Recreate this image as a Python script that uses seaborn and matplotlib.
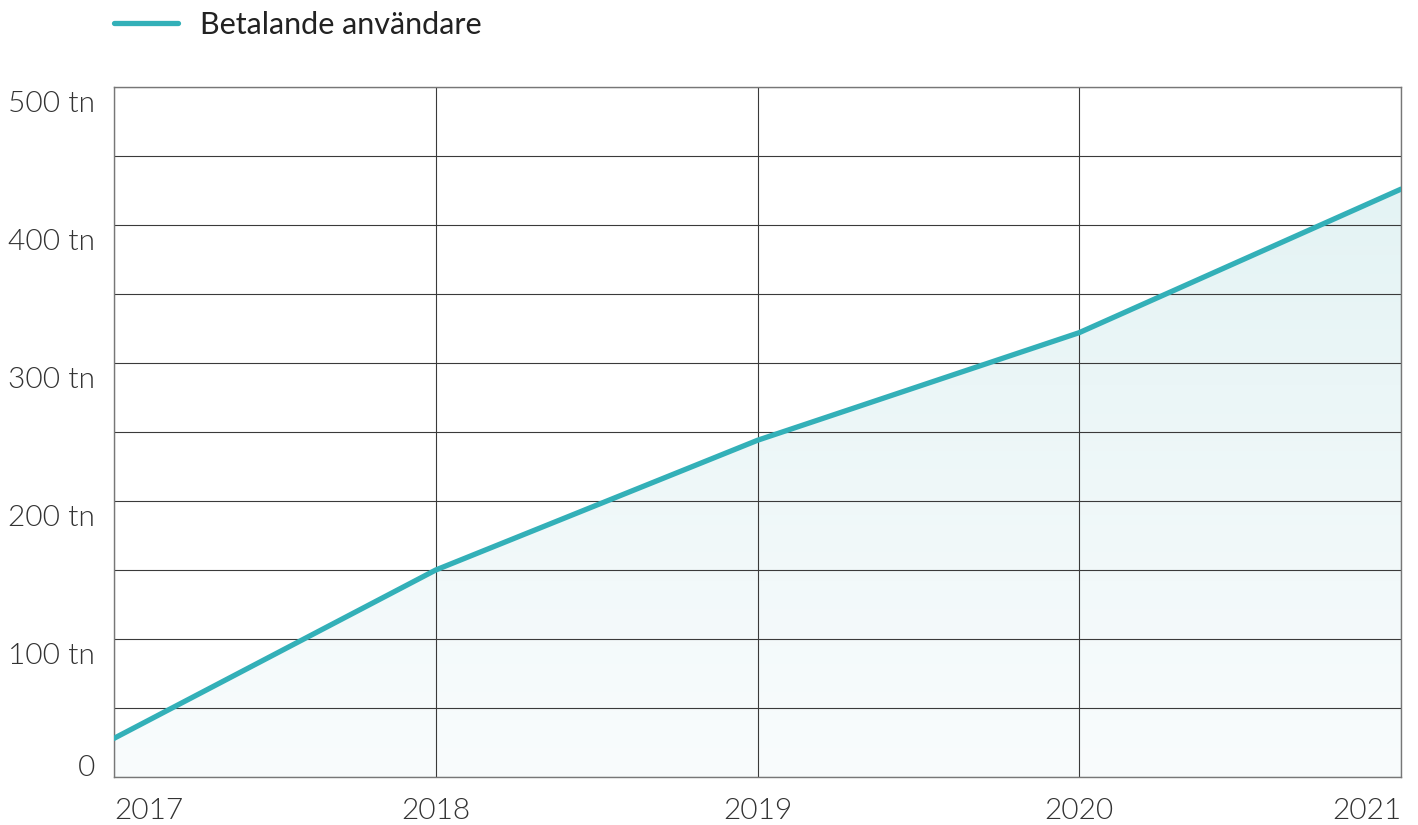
import numpy as np
import pandas as pd
import matplotlib
matplotlib.use("Agg")
import matplotlib.pyplot as plt
import matplotlib.transforms as mtransforms
from matplotlib.colors import LinearSegmentedColormap
import seaborn as sns

years = [2017, 2018, 2019, 2020, 2021]
paying_users = [28, 150, 244, 322, 426]
series_label = "Betalande användare"
y_ticks = [0, 100, 200, 300, 400, 500]
y_tick_labels = ["0", "100 tn", "200 tn", "300 tn", "400 tn", "500 tn"]
y_grid = [0, 50, 100, 150, 200, 250, 300, 350, 400, 450, 500]

sns.set_theme(style="white")
plt.rcParams["font.family"] = ["Lato", "DejaVu Sans"]

LINE = "#33b0b8"
GRID = "#3a3a3a"
TEXT = "#333333"

df = pd.DataFrame({"year": years, "users": paying_users})

fig = plt.figure(figsize=(14.18, 8.25), dpi=100)
ax = fig.add_axes([114/1418, 1 - 777/825, (1401-114)/1418, (777-87)/825])

# gradient fill under line
poly = ax.fill_between(df["year"], df["users"], 0, color="none", lw=0)
cmap = LinearSegmentedColormap.from_list("g", ["#f9fcfd", "#e4f3f4"])
grad = np.linspace(0, 1, 256).reshape(-1, 1)
im = ax.imshow(grad, cmap=cmap, aspect="auto", origin="lower",
               extent=[years[0], years[-1], 0, max(paying_users)], zorder=1)
im.set_clip_path(poly.get_paths()[0], transform=ax.transData)

sns.lineplot(data=df, x="year", y="users", ax=ax, color=LINE, lw=3.8,
             label=series_label, zorder=5, legend=False)

ax.set_xlim(years[0], years[-1])
ax.set_ylim(0, 500)
ax.set_xticks(years)
ax.set_xticklabels([str(y) for y in years])
ax.set_yticks(y_ticks)
ax.set_yticklabels(y_tick_labels)
ax.set_xlabel("")
ax.set_ylabel("")

for y in y_grid:
    ax.axhline(y, color=GRID, lw=0.8, zorder=2)
for x in years:
    ax.axvline(x, color=GRID, lw=0.8, zorder=2)

for s in ax.spines.values():
    s.set_color("#777777")
    s.set_linewidth(1.0)
    s.set_zorder(3)

FS = 21.5
ax.tick_params(axis="both", length=0, labelsize=FS, colors=TEXT)
ax.tick_params(axis="y", pad=13.5)
ax.tick_params(axis="x", pad=15)
dpi_t = fig.dpi_scale_trans
ylabs = ax.get_yticklabels()
for lab in ylabs:
    lab.set_fontweight(300)
    lab.set_color(TEXT)
    lab.set_verticalalignment("top")
    lab.set_transform(lab.get_transform() + mtransforms.ScaledTranslation(0, -4/100, dpi_t))
ylabs[0].set_verticalalignment("baseline")
ylabs[0].set_transform(ax.get_yaxis_text1_transform(13.5)[0] + mtransforms.ScaledTranslation(0, 1/100, dpi_t))
xlabs = ax.get_xticklabels()
for lab in xlabs:
    lab.set_fontweight(300)
    lab.set_color(TEXT)
xlabs[0].set_horizontalalignment("left")
xlabs[-1].set_horizontalalignment("right")

handle = plt.Line2D([], [], color=LINE, lw=3.8)
fig.legend([handle], [series_label], loc="center left",
           bbox_to_anchor=(114/1418, 1 - 25/825), frameon=False,
           borderpad=0, borderaxespad=0,
           fontsize=22, handlelength=2.1, handletextpad=0.72,
           labelcolor="#222222")

fig.savefig("out.png", dpi=100, facecolor="white")
